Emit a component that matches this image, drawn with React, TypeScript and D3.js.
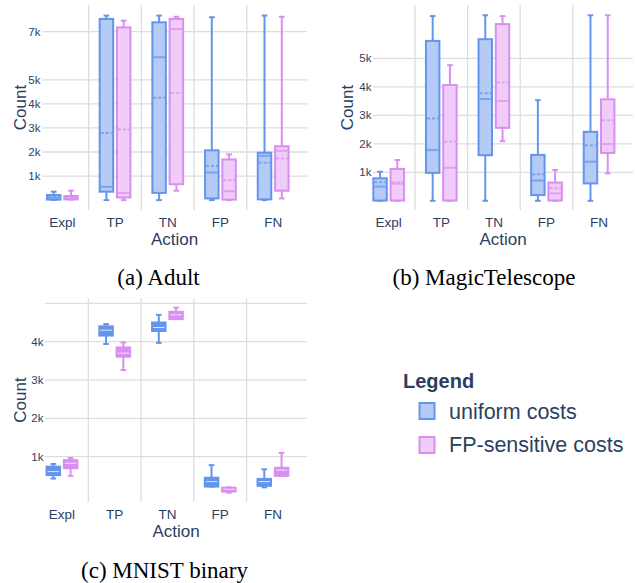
import React from "react";
import * as d3 from "d3";

const actions = ["Expl", "TP", "TN", "FP", "FN"];
const costs = ["uniform", "fpSensitive"];
const costNames = ["uniform costs", "FP-sensitive costs"];

// one row per action: [min, q1, median, q3, max, mean]
const adultUniform = [
  [10, 20, 100, 210, 350, 120],
  [0, 350, 550, 7530, 7670, 2790],
  [0, 300, 5940, 7390, 7670, 4250],
  [0, 70, 1150, 2070, 7600, 1420],
  [0, 30, 1840, 1970, 7670, 1550],
];
const adultFpSensitive = [
  [20, 30, 100, 170, 390, 110],
  [0, 110, 300, 7180, 7460, 2930],
  [390, 660, 7110, 7530, 7620, 4450],
  [0, 20, 370, 1690, 1900, 830],
  [70, 390, 2050, 2240, 7620, 1730],
];
const magicUniform = [
  [0, 10, 500, 790, 1020, 650],
  [0, 980, 1780, 5610, 6480, 2890],
  [0, 1600, 3570, 5670, 6510, 3770],
  [0, 200, 710, 1610, 3530, 930],
  [0, 610, 1370, 2420, 6510, 1950],
];
const magicFpSensitive = [
  [0, 10, 600, 1120, 1430, 650],
  [0, 10, 1160, 4060, 4760, 2070],
  [2090, 2560, 3500, 6200, 6480, 4150],
  [0, 10, 260, 640, 1080, 440],
  [960, 1680, 1990, 3560, 6510, 2830],
];
const mnistUniform = [
  [430, 520, 610, 740, 810, 620],
  [3940, 4160, 4300, 4400, 4460, 4250],
  [3970, 4280, 4370, 4500, 4700, 4360],
  [220, 220, 350, 450, 780, 370],
  [200, 240, 350, 420, 670, 360],
];
const mnistFpSensitive = [
  [500, 700, 830, 910, 970, 810],
  [3260, 3610, 3700, 3850, 3980, 3730],
  [4590, 4590, 4700, 4780, 4890, 4700],
  [60, 90, 150, 190, 200, 150],
  [500, 500, 650, 710, 1100, 640],
];

const adultTicks = [1000, 2000, 3000, 4000, 5000, 7000];
const adultTickLabels = ["1k", "2k", "3k", "4k", "5k", "7k"];
const magicTicks = [1000, 2000, 3000, 4000, 5000];
const magicTickLabels = ["1k", "2k", "3k", "4k", "5k"];
const mnistTicks = [1000, 2000, 3000, 4000, 5000];
const mnistTickLabels = ["1k", "2k", "3k", "4k", ""];

const captions = ["(a) Adult", "(b) MagicTelescope", "(c) MNIST binary"];

const LINE = { uniform: "#6495ed", fpSensitive: "#d98ff0" };
const FILL = { uniform: "#b4cbf6", fpSensitive: "#efcdf8" };
const INNER_LIGHT = { uniform: "#dbe6fb", fpSensitive: "#f7e2fc" };
const TEXT = "#2a3f5f";
const GRID = "#dddddd";
const SANS = "'Liberation Sans', Arial, sans-serif";
const SERIF = "'Liberation Serif', 'Times New Roman', serif";

type PanelProps = {
  series: number[][][];
  ticks: number[];
  tickLabels: string[];
  xRange: [number, number];
  gridX: [number, number];
  plotY: [number, number];
  yDomainMax: number;
  yRange: [number, number];
  countX: number;
  solid?: boolean;
};

function Panel(p: PanelProps) {
  const x = d3.scaleBand().domain(actions).range(p.xRange);
  const inner = d3
    .scaleBand()
    .domain(costs)
    .range([0, x.bandwidth()])
    .paddingInner(0.22)
    .paddingOuter(0.635);
  const y = d3.scaleLinear().domain([0, p.yDomainMax]).range(p.yRange);
  const [top, bottom] = p.plotY;
  const bw = inner.bandwidth();
  const cap = bw * 0.42;
  const midX = (p.gridX[0] + p.gridX[1]) / 2;

  return (
    <g>
      {p.ticks.map((t, i) => (
        <g key={"t" + t}>
          <line x1={p.gridX[0]} x2={p.gridX[1]} y1={y(t)} y2={y(t)} stroke={GRID} strokeWidth={1.3} />
          <text
            x={p.gridX[0] - 1.5}
            y={y(t)}
            textAnchor="end"
            dominantBaseline="central"
            fontSize={11.5}
            fill={TEXT}
            fontFamily={SANS}
          >
            {p.tickLabels[i]}
          </text>
        </g>
      ))}
      {actions.slice(1).map((a) => (
        <line key={"d" + a} x1={x(a)!} x2={x(a)!} y1={top} y2={bottom} stroke={GRID} strokeWidth={1.3} />
      ))}
      {costs.map((c, ci) =>
        actions.map((a, ai) => {
          const [mn, q1, med, q3, mx, mean] = p.series[ci][ai];
          const bx = x(a)! + inner(c)!;
          const cx = bx + bw / 2;
          const line = LINE[c as keyof typeof LINE];
          const fill = p.solid ? line : FILL[c as keyof typeof FILL];
          const innerCol = p.solid ? INNER_LIGHT[c as keyof typeof INNER_LIGHT] : line;
          return (
            <g key={c + a}>
              <line x1={cx} x2={cx} y1={y(q3)} y2={y(mx)} stroke={line} strokeWidth={2} />
              <line x1={cx} x2={cx} y1={y(q1)} y2={y(mn)} stroke={line} strokeWidth={2} />
              <line x1={cx - cap / 2} x2={cx + cap / 2} y1={y(mx)} y2={y(mx)} stroke={line} strokeWidth={2} />
              <line x1={cx - cap / 2} x2={cx + cap / 2} y1={y(mn)} y2={y(mn)} stroke={line} strokeWidth={2} />
              <rect
                x={bx}
                y={y(q3)}
                width={bw}
                height={Math.max(y(q1) - y(q3), 1)}
                fill={fill}
                stroke={line}
                strokeWidth={2}
              />
              <line
                x1={bx + 1}
                x2={bx + bw - 1}
                y1={y(med)}
                y2={y(med)}
                stroke={innerCol}
                strokeOpacity={p.solid ? 1 : 0.75}
                strokeWidth={p.solid ? 1 : 2}
              />
              {!p.solid && (
                <line
                  x1={bx + 1}
                  x2={bx + bw - 1}
                  y1={y(mean)}
                  y2={y(mean)}
                  stroke={innerCol}
                  strokeOpacity={0.75}
                  strokeWidth={2}
                  strokeDasharray="3,2"
                />
              )}
            </g>
          );
        })
      )}
      {actions.map((a) => (
        <text
          key={"c" + a}
          x={x(a)! + x.bandwidth() / 2}
          y={bottom + 17}
          textAnchor="middle"
          fontSize={13.5}
          fill={TEXT}
          fontFamily={SANS}
        >
          {a}
        </text>
      ))}
      <text x={midX} y={bottom + 35} textAnchor="middle" fontSize={17} fill={TEXT} fontFamily={SANS}>
        Action
      </text>
      <text
        transform={`translate(${p.countX},${(top + bottom) / 2}) rotate(-90)`}
        textAnchor="middle"
        dominantBaseline="central"
        fontSize={17}
        fill={TEXT}
        fontFamily={SANS}
      >
        Count
      </text>
    </g>
  );
}

export default function App() {
  return (
    <svg width={635} height={583} style={{ position: "absolute", left: 0, top: 0, background: "#fff" }}>
      <Panel
        series={[adultUniform, adultFpSensitive]}
        ticks={adultTicks}
        tickLabels={adultTickLabels}
        xRange={[36, 299.5]}
        gridX={[42, 307]}
        plotY={[5, 210]}
        yDomainMax={7000}
        yRange={[200.1, 31.7]}
        countX={20}
      />
      <Panel
        series={[magicUniform, magicFpSensitive]}
        ticks={magicTicks}
        tickLabels={magicTickLabels}
        xRange={[362.4, 625.4]}
        gridX={[373, 633]}
        plotY={[5, 210]}
        yDomainMax={5000}
        yRange={[200.8, 58.3]}
        countX={347}
      />
      <Panel
        series={[mnistUniform, mnistFpSensitive]}
        ticks={mnistTicks}
        tickLabels={mnistTickLabels}
        xRange={[35.6, 299.3]}
        gridX={[45, 307]}
        plotY={[298.3, 501.7]}
        yDomainMax={4000}
        yRange={[495, 341.7]}
        countX={20}
        solid
      />
      <text x={158.5} y={285} textAnchor="middle" fontSize={23} fill="#000" fontFamily={SERIF}>
        {captions[0]}
      </text>
      <text x={484} y={285} textAnchor="middle" fontSize={23} fill="#000" fontFamily={SERIF}>
        {captions[1]}
      </text>
      <text x={164.5} y={578} textAnchor="middle" fontSize={23} fill="#000" fontFamily={SERIF}>
        {captions[2]}
      </text>
      <g>
        <text x={403} y={388} fontSize={20} fontWeight="bold" fill={TEXT} fontFamily={SANS}>
          Legend
        </text>
        {costs.map((c, i) => (
          <g key={"l" + c}>
            <rect
              x={419.5}
              y={403 + i * 34}
              width={15}
              height={16}
              fill={FILL[c as keyof typeof FILL]}
              stroke={LINE[c as keyof typeof LINE]}
              strokeWidth={2}
            />
            <text x={449} y={419 + i * 32.5} fontSize={21.5} fill={TEXT} fontFamily={SANS}>
              {costNames[i]}
            </text>
          </g>
        ))}
      </g>
    </svg>
  );
}
